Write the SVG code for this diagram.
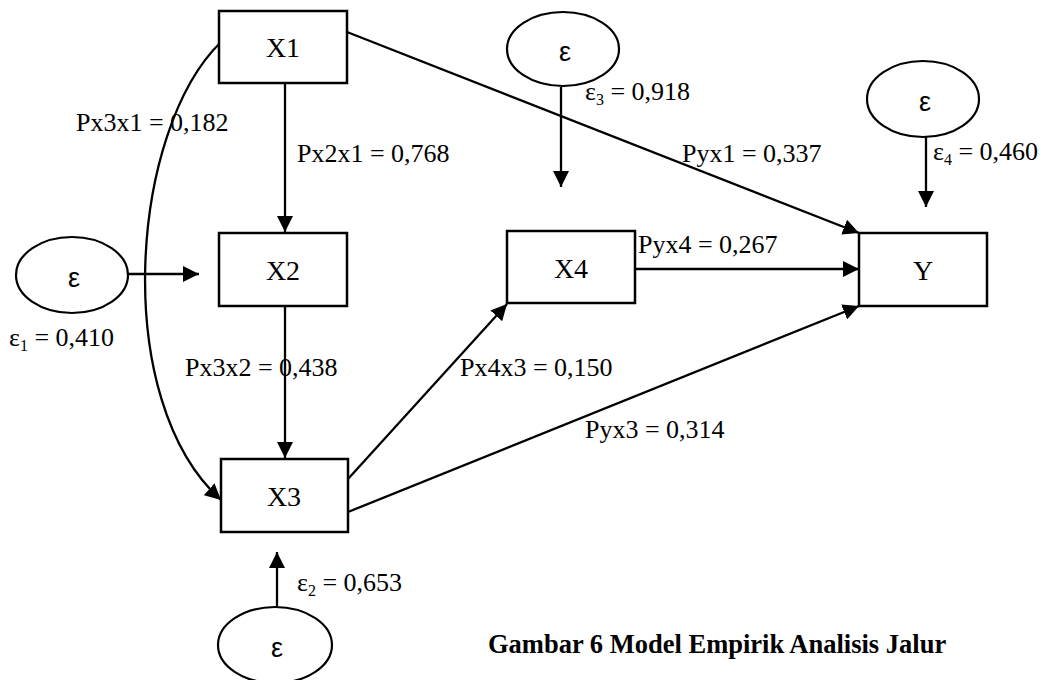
<svg xmlns="http://www.w3.org/2000/svg" width="1041" height="680" viewBox="0 0 1041 680">
<style>
.box{fill:#fff;stroke:#000;stroke-width:2.5}
.ell{fill:#fff;stroke:#000;stroke-width:2.2}
.bt{font-family:"Liberation Serif","Times New Roman",serif;font-size:28px;text-anchor:middle;fill:#000}
.eps{font-family:"Liberation Sans",Arial,sans-serif;font-size:27px;text-anchor:middle;fill:#000}
.lb{font-family:"Liberation Serif","Times New Roman",serif;font-size:26px;fill:#000}
.sub{font-size:16px}
.cap{font-family:"Liberation Serif","Times New Roman",serif;font-size:26.5px;font-weight:bold;fill:#000}
.c{fill:none;stroke:#000;stroke-width:2.3}
</style>
<defs>
<marker id="ah" markerUnits="userSpaceOnUse" markerWidth="16" markerHeight="16" refX="16" refY="8" orient="auto" viewBox="0 0 16 16">
<path d="M0,0 L16,8 L0,16 z" fill="#000"/>
</marker>
</defs>
<g id="connectors">
<line class="c" x1="285" y1="83" x2="285" y2="232" marker-end="url(#ah)"/>
<line class="c" x1="285" y1="306" x2="285" y2="458" marker-end="url(#ah)"/>
<line class="c" x1="128" y1="274" x2="199" y2="274" marker-end="url(#ah)"/>
<line class="c" x1="561" y1="87" x2="561" y2="187" marker-end="url(#ah)"/>
<line class="c" x1="926" y1="137" x2="926" y2="207" marker-end="url(#ah)"/>
<line class="c" x1="277" y1="607" x2="277" y2="552" marker-end="url(#ah)"/>
<line class="c" x1="635" y1="269" x2="859" y2="269" marker-end="url(#ah)"/>
<line class="c" x1="347" y1="32" x2="859" y2="233" marker-end="url(#ah)"/>
<line class="c" x1="348" y1="512" x2="859" y2="306" marker-end="url(#ah)"/>
<line class="c" x1="348" y1="479" x2="507" y2="304" marker-end="url(#ah)"/>
<path class="c" d="M221,42 C130,130 110,400 221,500" marker-end="url(#ah)"/>
</g>
<g id="X1"><rect class="box" x="219" y="11" width="128" height="72"/><text class="bt" x="283" y="57">X1</text></g>
<g id="X2"><rect class="box" x="219" y="233" width="128" height="73"/><text class="bt" x="283" y="280">X2</text></g>
<g id="X3"><rect class="box" x="221" y="459" width="127" height="73"/><text class="bt" x="284" y="506">X3</text></g>
<g id="X4"><rect class="box" x="507" y="231" width="128" height="72"/><text class="bt" x="571" y="278">X4</text></g>
<g id="Y"><rect class="box" x="859" y="233" width="128" height="73"/><text class="bt" x="923" y="280">Y</text></g>
<g id="e1"><ellipse class="ell" cx="72" cy="275" rx="56" ry="38"/><text class="eps" x="74" y="287">ε</text></g>
<g id="e2"><ellipse class="ell" cx="275" cy="645" rx="57" ry="38"/><text class="eps" x="277" y="657">ε</text></g>
<g id="e3"><ellipse class="ell" cx="563" cy="49" rx="56" ry="37"/><text class="eps" x="565" y="61">ε</text></g>
<g id="e4"><ellipse class="ell" cx="923" cy="99" rx="56" ry="38"/><text class="eps" x="925" y="111">ε</text></g>
<g id="labels">
<text class="lb" x="76" y="131">Px3x1 = 0,182</text>
<text class="lb" x="297" y="162">Px2x1 = 0,768</text>
<text class="lb" x="585" y="100">ε<tspan class="sub" dy="5">3</tspan><tspan dy="-5"> = 0,918</tspan></text>
<text class="lb" x="682" y="162">Pyx1 = 0,337</text>
<text class="lb" x="933" y="160">ε<tspan class="sub" dy="5">4</tspan><tspan dy="-5"> = 0,460</tspan></text>
<text class="lb" x="638" y="253">Pyx4 = 0,267</text>
<text class="lb" x="9" y="346">ε<tspan class="sub" dy="5">1</tspan><tspan dy="-5"> = 0,410</tspan></text>
<text class="lb" x="185" y="376">Px3x2 = 0,438</text>
<text class="lb" x="460" y="376">Px4x3 = 0,150</text>
<text class="lb" x="585" y="438">Pyx3 = 0,314</text>
<text class="lb" x="297" y="591">ε<tspan class="sub" dy="5">2</tspan><tspan dy="-5"> = 0,653</tspan></text>
<text class="cap" x="488" y="653">Gambar 6 Model Empirik Analisis Jalur</text>
</g>
</svg>
